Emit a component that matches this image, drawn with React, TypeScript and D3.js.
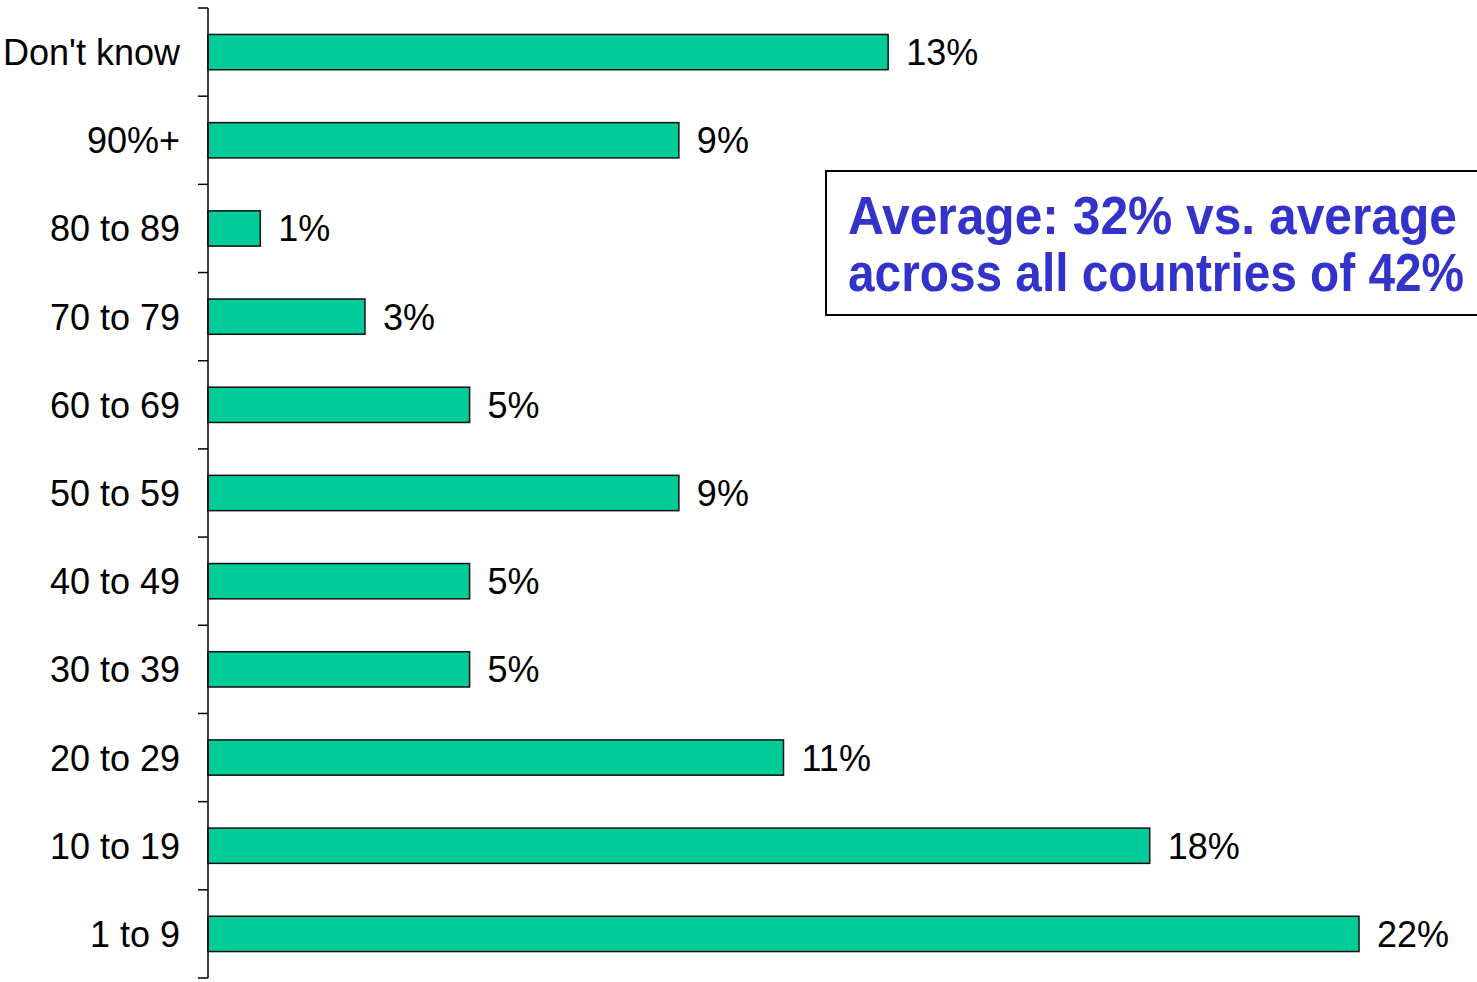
import React, { useLayoutEffect, useRef, useState } from "react";
import * as d3 from "d3";

const categories = ["Don't know", "90%+", "80 to 89", "70 to 79", "60 to 69", "50 to 59", "40 to 49", "30 to 39", "20 to 29", "10 to 19", "1 to 9"];
const values = [13, 9, 1, 3, 5, 9, 5, 5, 11, 18, 22];
const noteLines = ["Average: 32% vs. average", "across all countries of 42%"];
const noteWidths = [609, 616];

const W = 1477;
const H = 982;
const FONT = "'Liberation Sans', Arial, sans-serif";

export default function App() {
  const y = d3.scaleBand<string>().domain(categories).range([8, 978]).paddingInner(0.6).paddingOuter(0.3);
  const x = d3.scaleLinear().domain([0, 22]).range([208, 1359]);
  const step = y.step();
  const ticks = d3.range(categories.length + 1).map((i) => 8 + i * step);

  const noteRefs = useRef<(SVGTextElement | null)[]>([]);
  const [scales, setScales] = useState<number[]>([0.9, 0.88]);
  useLayoutEffect(() => {
    const s = noteRefs.current.map((el, i) => {
      if (!el) return 1;
      const w = el.getComputedTextLength();
      return w > 0 ? noteWidths[i] / w : 1;
    });
    setScales(s);
  }, []);

  return (
    <svg width={W} height={H} style={{ position: "absolute", left: 0, top: 0, background: "#fff" }} fontFamily={FONT}>
      {categories.map((c, i) => (
        <g key={c}>
          <rect
            x={x(0)}
            y={y(c)!}
            width={x(values[i]) - x(0)}
            height={y.bandwidth()}
            fill="#00CC99"
            stroke="#111"
            strokeWidth={1.5}
          />
          <text x={180} y={y(c)! + y.bandwidth() / 2} dy="0.36em" textAnchor="end" fontSize={36} fill="#000">
            {c}
          </text>
          <text x={x(values[i]) + 18} y={y(c)! + y.bandwidth() / 2} dy="0.36em" textAnchor="start" fontSize={36} fill="#000">
            {values[i]}%
          </text>
        </g>
      ))}
      <line x1={208} x2={208} y1={8} y2={978} stroke="#000" strokeWidth={1.5} />
      {ticks.map((t, i) => (
        <line key={i} x1={198} x2={208} y1={t} y2={t} stroke="#000" strokeWidth={1.5} />
      ))}
      <rect x={826} y={171} width={660} height={144} fill="#fff" stroke="#000" strokeWidth={2} />
      {noteLines.map((l, i) => (
        <g key={i} transform={`translate(848, ${234 + i * 57}) scale(${scales[i]}, 1)`}>
          <text
            ref={(el) => {
              noteRefs.current[i] = el;
            }}
            x={0}
            y={0}
            fontSize={53}
            fontWeight="bold"
            fill="#3333CC"
          >
            {l}
          </text>
        </g>
      ))}
    </svg>
  );
}
